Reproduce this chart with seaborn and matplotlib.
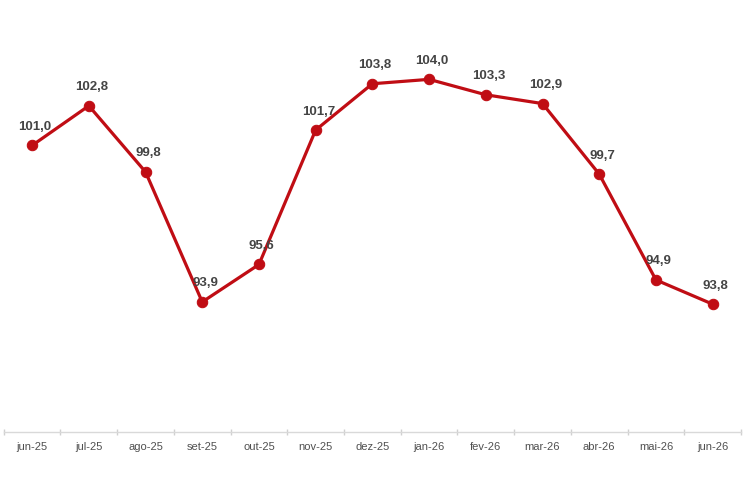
import numpy as np
import pandas as pd
import matplotlib
matplotlib.use("Agg")
import matplotlib.pyplot as plt
import seaborn as sns

# data
months = ["jun-25", "jul-25", "ago-25", "set-25", "out-25", "nov-25", "dez-25",
          "jan-26", "fev-26", "mar-26", "abr-26", "mai-26", "jun-26"]
values = [101.0, 102.8, 99.8, 93.9, 95.6, 101.7, 103.8,
          104.0, 103.3, 102.9, 99.7, 94.9, 93.8]

df = pd.DataFrame({"pos": np.arange(len(months)), "mes": months, "valor": values})

sns.set_style("white")
plt.rcParams["font.family"] = ["Liberation Sans", "DejaVu Sans"]

fig = plt.figure(figsize=(7.5, 5), dpi=100)
ax = fig.add_axes([0.005, 0.136, 0.983, 0.864])

red = "#C00D14"
sns.lineplot(data=df, x="pos", y="valor", ax=ax, color=red, linewidth=2.3,
             marker="o", markersize=7.5, markeredgecolor=red, markerfacecolor=red)

# data labels
for p, v in zip(df["pos"], df["valor"]):
    ax.annotate(f"{v:.1f}".replace(".", ","), (p, v), xytext=(2, 9),
                textcoords="offset points", ha="center", va="bottom",
                fontsize=9.5, fontweight="bold", color="#444444")

ax.set_xlim(-0.5, len(months) - 0.5)
ax.set_ylim(88, 107.6)
ax.set_xticks(df["pos"])
ax.set_xticklabels(months, fontsize=8, color="#505050")
ax.set_xticks(np.arange(-0.5, len(months), 1), minor=True)
ax.tick_params(axis="x", which="major", length=0, pad=7)
ax.tick_params(axis="x", which="minor", bottom=True, length=4, width=1,
               color="#d0d0d0", direction="inout")
ax.set_yticks([])
ax.set_xlabel("")
ax.set_ylabel("")

for s in ["top", "right", "left"]:
    ax.spines[s].set_visible(False)
ax.spines["bottom"].set_color("#d9d9d9")
ax.spines["bottom"].set_linewidth(1)

fig.savefig("out.png", dpi=100, facecolor="white")
